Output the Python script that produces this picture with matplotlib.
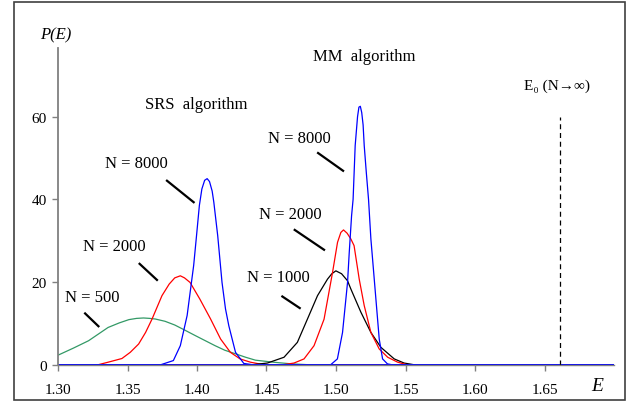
import matplotlib
matplotlib.use('Agg')
import matplotlib.pyplot as plt
from matplotlib.patches import Rectangle

plt.rcParams['font.family'] = ['Liberation Serif', 'DejaVu Serif']

# SRS algorithm, N = 500
e_srs500 = [1.300, 1.311, 1.322, 1.329, 1.336, 1.344, 1.351, 1.3565, 1.3615, 1.366, 1.370, 1.377,
            1.384, 1.391, 1.399, 1.406, 1.413, 1.420, 1.428, 1.435, 1.442, 1.455, 1.468, 1.480, 1.70]
p_srs500 = [2.3, 4.0, 5.8, 7.4, 9.0, 10.1, 10.9, 11.2, 11.3, 11.2, 11.05, 10.5,
            9.6, 8.4, 7.0, 5.8, 4.6, 3.5, 2.6, 1.8, 1.1, 0.6, 0.2, 0.0, 0.0]

# SRS algorithm, N = 2000
e_srs2000 = [1.30, 1.329, 1.336, 1.346, 1.352, 1.358, 1.363, 1.3676, 1.3748, 1.380, 1.384, 1.388,
             1.391, 1.395, 1.402, 1.4097, 1.417, 1.424, 1.431, 1.4385, 1.448, 1.70]
p_srs2000 = [0.0, 0.0, 0.6, 1.5, 3.0, 5.0, 7.8, 11.0, 16.7, 19.5, 21.0, 21.5,
             21.0, 19.9, 15.9, 11.1, 6.2, 3.0, 1.4, 0.6, 0.0, 0.0]

# SRS algorithm, N = 8000
e_srs8000 = [1.30, 1.374, 1.383, 1.388, 1.3929, 1.396, 1.3976, 1.3996, 1.4017, 1.4035, 1.4055,
             1.4073, 1.409, 1.4109, 1.4121, 1.4149, 1.418, 1.4205, 1.4229, 1.4277, 1.4337, 1.440, 1.70]
p_srs8000 = [0.0, 0.0, 1.0, 4.6, 11.9, 19.9, 24.0, 31.0, 38.5, 42.5, 44.6,
             45.0, 44.3, 42.0, 39.3, 31.2, 19.9, 13.5, 9.4, 3.0, 0.3, 0.0, 0.0]

# MM algorithm, N = 1000
e_mm1000 = [1.30, 1.440, 1.4506, 1.4626, 1.4722, 1.4794, 1.4867, 1.4939, 1.4970, 1.4999, 1.5040,
            1.5083, 1.5107, 1.5179, 1.5251, 1.5323, 1.5419, 1.549, 1.556, 1.70]
p_mm1000 = [0.0, 0.0, 0.4, 1.8, 5.4, 11.0, 16.7, 20.7, 22.0, 22.7, 22.0,
            20.3, 18.3, 12.7, 7.8, 4.2, 1.4, 0.4, 0.0, 0.0]

# MM algorithm, N = 2000
e_mm2000 = [1.30, 1.462, 1.4698, 1.477, 1.4842, 1.4914, 1.4975, 1.5011, 1.5035, 1.5054, 1.5080,
            1.5107, 1.513, 1.5167, 1.5203, 1.5251, 1.5311, 1.5372, 1.5444, 1.551, 1.70]
p_mm2000 = [0.0, 0.0, 0.4, 1.4, 4.6, 11.0, 22.3, 29.6, 32.0, 32.6, 31.8,
            30.4, 28.8, 20.7, 14.3, 7.8, 3.8, 1.8, 0.6, 0.0, 0.0]

# MM algorithm, N = 8000
e_mm8000 = [1.30, 1.4962, 1.501, 1.5047, 1.5083, 1.5095, 1.5112, 1.5123, 1.5138, 1.5155, 1.5165,
            1.5175, 1.5185, 1.5195, 1.5203, 1.5218, 1.5234, 1.5251, 1.5263, 1.5287, 1.5311, 1.5335,
            1.537, 1.540, 1.70]
p_mm8000 = [0.0, 0.0, 1.4, 7.8, 19.9, 27.0, 36.0, 40.0, 53.0, 60.0, 62.3,
            62.5, 61.0, 58.0, 53.0, 46.5, 40.0, 30.4, 25.6, 15.9, 6.2, 1.4,
            0.2, 0.0, 0.0]

e_inf = 1.661

fig = plt.figure(figsize=(6.34, 4.02), dpi=100)
ax = fig.add_axes([58 / 634, 1 - 365.7 / 402, (614 - 58) / 634, (365.7 - 49) / 402])

lw = 0.9
ax.plot(e_srs500, p_srs500, color='#339966', lw=lw)
ax.plot(e_srs2000, p_srs2000, color='#FF0000', lw=lw)
ax.plot(e_mm1000, p_mm1000, color='black', lw=lw)
ax.plot(e_mm2000, p_mm2000, color='#FF0000', lw=lw)
ax.plot(e_srs8000, p_srs8000, color='#0000FF', lw=lw)
ax.plot(e_mm8000, p_mm8000, color='#0000FF', lw=lw)
ax.plot([e_inf, e_inf], [0, 60], color='black', lw=0.9, ls=(0, (4, 3)))

ax.set_xlim(1.30, 1.70)
ax.set_ylim(0, 76.6)
ax.set_xticks([1.30, 1.35, 1.40, 1.45, 1.50, 1.55, 1.60, 1.65])
ax.set_xticklabels(['1.30', '1.35', '1.40', '1.45', '1.50', '1.55', '1.60', '1.65'])
ax.set_yticks([0, 20, 40, 60])
ax.tick_params(axis='both', direction='out', length=4, width=1, color='#808080',
               labelsize=11)
ax.tick_params(axis='x', pad=9)
ax.tick_params(axis='y', pad=4)

for side in ['top', 'right']:
    ax.spines[side].set_visible(False)
ax.spines['left'].set_color('#808080')
ax.spines['left'].set_linewidth(1.3)
ax.spines['bottom'].set_color('#808080')
ax.spines['bottom'].set_linewidth(1.0)

fs = 12
ax.text(1.3996, 63.0, 'SRS  algorithm', fontsize=fs, ha='center', va='center')
ax.text(1.520, 74.7, 'MM  algorithm', fontsize=fs, ha='center', va='center', clip_on=False)
ax.text(1.6593, 67.7, 'E₀ (N→∞)', fontsize=11, ha='center', va='center')

labels = [
    ('N = 8000', 1.3563, 48.8, 1.3784, 44.5, 1.3976, 39.3),
    ('N = 8000', 1.4739, 54.8, 1.4871, 51.2, 1.5051, 46.9),
    ('N = 2000', 1.3404, 28.8, 1.3587, 24.4, 1.3712, 20.5),
    ('N = 2000', 1.4674, 36.4, 1.4703, 32.6, 1.4914, 27.8),
    ('N = 1000', 1.4587, 21.1, 1.4614, 16.5, 1.4739, 13.7),
    ('N = 500', 1.3245, 16.4, 1.3195, 12.4, 1.3291, 9.3),
]
for txt, tx, ty, x0, y0, x1, y1 in labels:
    ax.text(tx, ty, txt, fontsize=fs, ha='center', va='center')
    ax.plot([x0, x1], [y0, y1], color='black', lw=1.6)

fig.text(56 / 634, 1 - 35 / 402, 'P(E)', fontsize=12, style='italic', ha='center', va='center')
fig.text(597 / 634, 1 - 387 / 402, 'E', fontsize=14, style='italic', ha='center', va='center')

fig.patches.append(Rectangle((14 / 634, 1 - 401 / 402), (625 - 14) / 634, (401 - 3) / 402,
                             transform=fig.transFigure, fill=False, edgecolor='#404040',
                             lw=1.2))

fig.savefig('out.png', dpi=100)
